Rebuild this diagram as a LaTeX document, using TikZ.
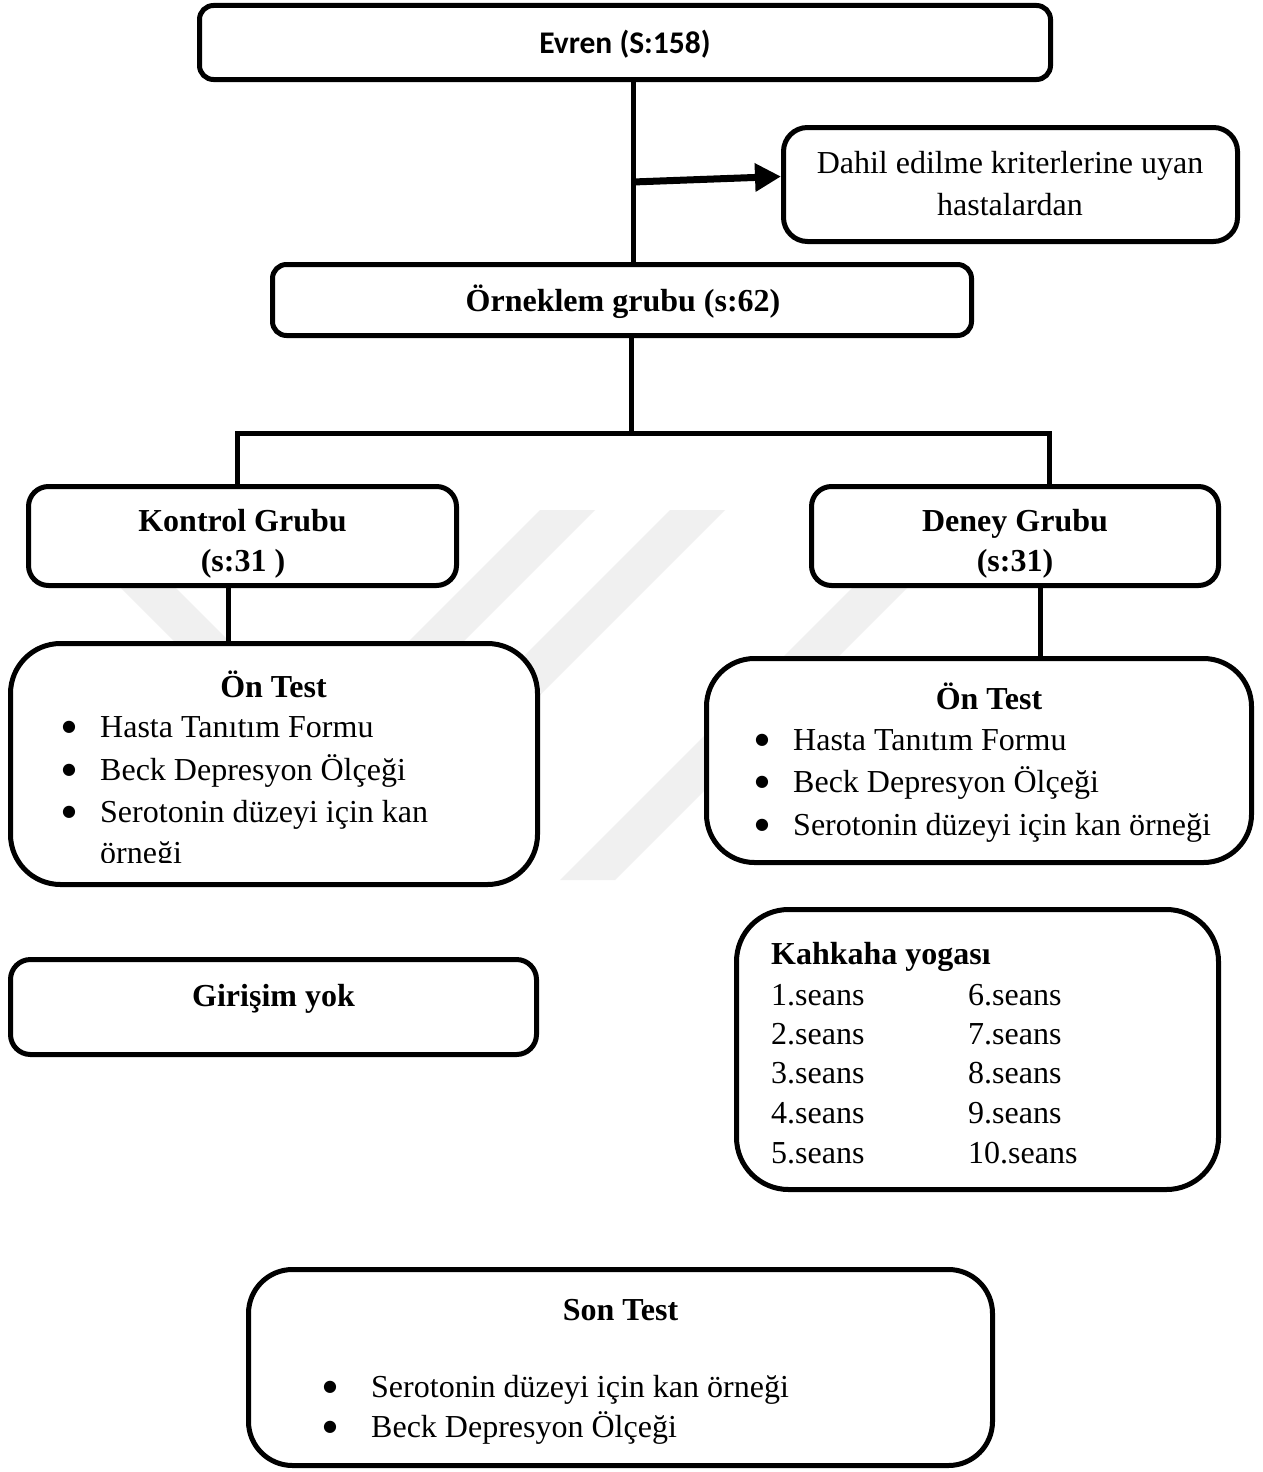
\documentclass[tikz,border=0pt]{standalone}
\usepackage{fontspec}
\setmainfont{Liberation Serif}
\newfontfamily\calibfont{Carlito}
\newfontfamily\dejavufont{DejaVu Sans}
\usetikzlibrary{arrows.meta}
\tikzset{
  box/.style={draw, line width=5pt, fill=white, rounded corners=#1, inner sep=0pt},
  conn/.style={draw, line width=5pt, line join=miter},
  thickarrow/.style={draw, line width=7pt, -{Triangle[length=26pt,width=27pt]}},
  txt/.style={inner sep=0pt, font=\fontsize{32}{38}\selectfont},
  btxt/.style={inner sep=0pt, font=\fontsize{32}{38}\selectfont\bfseries},
  bul/.style={inner sep=0pt, anchor=center, font=\dejavufont\fontsize{16}{17}\selectfont},
  wm/.style={fill=black!6},
}
\begin{document}
\begin{tikzpicture}[x=1pt,y=-1pt]
\fill[white] (0,0) rectangle (1263,1472);
\useasboundingbox (0,0) rectangle (1263,1472);

% faint watermark
\fill[wm] (43,510) -- (98,510) -- (468,880) -- (413,880) -- cycle;
\fill[wm] (540,510) -- (595,510) -- (225,880) -- (170,880) -- cycle;
\fill[wm] (670,510) -- (725,510) -- (355,880) -- (300,880) -- cycle;
\fill[wm] (930,510) -- (985,510) -- (615,880) -- (560,880) -- cycle;

% boxes
\node[box=14pt, minimum width=851pt, minimum height=74pt] (evren) at (625,42.5) {};
\node[box=24pt, minimum width=454pt, minimum height=114pt] (dahil) at (1010.5,184.5) {};
\node[box=14pt, minimum width=699pt, minimum height=71pt] (orn) at (622,300) {};
\node[box=20pt, minimum width=428pt, minimum height=99pt] (kon) at (242.5,536) {};
\node[box=20pt, minimum width=407pt, minimum height=99pt] (den) at (1015,536) {};
\node[box=50pt, minimum width=527pt, minimum height=241pt] (onl) at (274,764) {};
\node[box=48pt, minimum width=545pt, minimum height=204pt] (onr) at (979,760.5) {};
\node[box=20pt, minimum width=526pt, minimum height=95pt] (gir) at (273.5,1007) {};
\node[box=52pt, minimum width=482pt, minimum height=280pt] (kah) at (977.5,1049.5) {};
\node[box=44pt, minimum width=744pt, minimum height=196pt] (son) at (620.5,1367.5) {};

% connectors
\coordinate (vx) at (633,0);
\draw[conn] (evren.south -| vx) -- (orn.north -| vx);
\coordinate (arS) at (633,182);
\draw[thickarrow] (arS) -- ([yshift=8pt]dahil.west);
\coordinate (hx) at (631,0);
\coordinate (hl) at (237,433);
\coordinate (hr) at (1049,433);
\draw[conn] (orn.south -| hx) -- (hx |- hl);
\draw[conn] (kon.north -| hl) -- (hl) -- (hr) -- (den.north -| hr);
\coordinate (kx) at (228,0);
\draw[conn] (kon.south -| kx) -- (onl.north -| kx);
\coordinate (dx) at (1040,0);
\draw[conn] (den.south -| dx) -- (onr.north -| dx);

% texts
\node[inner sep=0pt, font=\calibfont\fontsize{31.5}{38}\selectfont\bfseries, anchor=base] (tevren) at (625,53) {Evren (S:158)};
\node[txt, anchor=base] (tdahil1) at (1010,173) {Dahil edilme kriterlerine uyan};
\node[txt, anchor=base] (tdahil2) at (1010,215) {hastalardan};
\node[btxt, anchor=base] (torn) at (623,311) {Örneklem grubu (s:62)};
\node[btxt, anchor=base] (tkon1) at (242.5,531) {Kontrol Grubu};
\node[btxt, anchor=base] (tkon2) at (243,571) {(s:31 )};
\node[btxt, anchor=base] (tden1) at (1015,531) {Deney Grubu};
\node[btxt, anchor=base] (tden2) at (1015,571) {(s:31)};

% left pre-test
\node[btxt, anchor=base] (tonl) at (273.5,697) {Ön Test};
\node[bul] (bl1) at (69,727) {●};
\node[txt, anchor=base west] (tl1) at (100,737) {Hasta Tanıtım Formu};
\node[bul] (bl2) at (69,770) {●};
\node[txt, anchor=base west] (tl2) at (100,780) {Beck Depresyon Ölçeği};
\node[bul] (bl3) at (69,812) {●};
\node[txt, anchor=base west] (tl3) at (100,822) {Serotonin düzeyi için kan};
\begin{scope}
\clip (0,0) rectangle (1263,862);
\node[txt, anchor=base west] (tl4) at (100,863) {örneği};
\end{scope}

% right pre-test
\node[btxt, anchor=base] (tonr) at (989,709) {Ön Test};
\node[bul] (br1) at (762,740) {●};
\node[txt, anchor=base west] (tr1) at (793,750) {Hasta Tanıtım Formu};
\node[bul] (br2) at (762,782) {●};
\node[txt, anchor=base west] (tr2) at (793,792) {Beck Depresyon Ölçeği};
\node[bul] (br3) at (762,825) {●};
\node[txt, anchor=base west] (tr3) at (793,835) {Serotonin düzeyi için kan örneği};

% no intervention
\node[btxt, anchor=base] (tgir) at (273.5,1006) {Girişim yok};

% laughter yoga
\node[btxt, anchor=base west] (tkah) at (771,964) {Kahkaha yogası};
\node[txt, anchor=base west] (s1) at (771,1005) {1.seans};
\node[txt, anchor=base west] (s2) at (771,1044) {2.seans};
\node[txt, anchor=base west] (s3) at (771,1083) {3.seans};
\node[txt, anchor=base west] (s4) at (771,1123) {4.seans};
\node[txt, anchor=base west] (s5) at (771,1163) {5.seans};
\node[txt, anchor=base west] (s6) at (968,1005) {6.seans};
\node[txt, anchor=base west] (s7) at (968,1044) {7.seans};
\node[txt, anchor=base west] (s8) at (968,1083) {8.seans};
\node[txt, anchor=base west] (s9) at (968,1123) {9.seans};
\node[txt, anchor=base west] (s10) at (968,1163) {10.seans};

% post-test
\node[btxt, anchor=base] (tson) at (620.5,1320) {Son Test};
\node[bul] (bs1) at (330,1387) {●};
\node[txt, anchor=base west] (ts1) at (371,1397) {Serotonin düzeyi için kan örneği};
\node[bul] (bs2) at (330,1427) {●};
\node[txt, anchor=base west] (ts2) at (371,1437) {Beck Depresyon Ölçeği};
\end{tikzpicture}
\end{document}
